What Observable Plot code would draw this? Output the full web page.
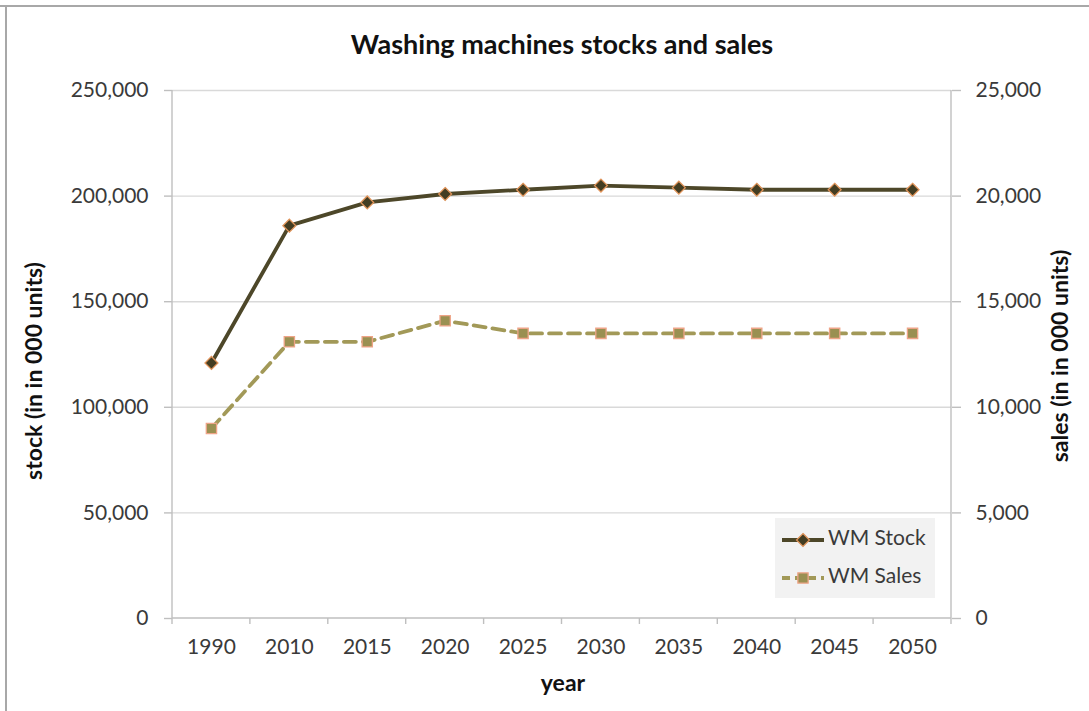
<!DOCTYPE html>
<html><head><meta charset="utf-8">
<script src="https://cdn.jsdelivr.net/npm/d3@7"></script>
<script src="https://cdn.jsdelivr.net/npm/@observablehq/plot@0.6"></script>
<style>
html,body{margin:0;padding:0;background:#fff;}
#chart{position:relative;width:1089px;height:711px;overflow:hidden;}
</style></head><body><div id="chart"></div>
<script>
// ---- data ----
const years = ["1990","2010","2015","2020","2025","2030","2035","2040","2045","2050"];
const stock = [121000,186000,197000,201000,203000,205000,204000,203000,203000,203000];
const sales = [9000,13100,13100,14100,13500,13500,13500,13500,13500,13500];
const stockTicks = [0,50000,100000,150000,200000,250000];
const salesTicks = [0,5000,10000,15000,20000,25000];
const seriesNames = ["WM Stock","WM Sales"];
const titleText = "Washing machines stocks and sales";
const xLabel = "year";
const yLeftLabel = "stock (in in 000 units)";
const yRightLabel = "sales (in in 000 units)";

// ---- styles ----
const font = "Lato, 'Open Sans', sans-serif";
const axisColor = "#bfbfbf";
const gridColor = "#d9d9d9";
const textColor = "#3a3a3a";
const stockLine = "#4d4729", stockFill = "#433d22", stockEdge = "#e0945a";
const salesLine = "#a29958", salesFill = "#9a9052", salesEdge = "#eea487";

const ratio = stockTicks[stockTicks.length-1] / salesTicks[salesTicks.length-1];
const stockData = years.map((year,i)=>({year, value: stock[i], series: seriesNames[0]}));
const salesData = years.map((year,i)=>({year, value: sales[i]*ratio, raw: sales[i], series: seriesNames[1]}));
const fmt = d3.format(",");

function axisFrame(index, scales, values, dimensions) {
  const {width, height, marginLeft, marginRight, marginTop, marginBottom} = dimensions;
  const x0 = marginLeft, x1 = width - marginRight, y0 = marginTop, y1 = height - marginBottom;
  const g = d3.create("svg:g").attr("stroke", axisColor).attr("stroke-width", 1.4).attr("fill","none");
  g.append("line").attr("x1", x0).attr("x2", x0).attr("y1", y0).attr("y2", y1);
  g.append("line").attr("x1", x1).attr("x2", x1).attr("y1", y0).attr("y2", y1);
  g.append("line").attr("x1", x0).attr("x2", x1).attr("y1", y1).attr("y2", y1);
  const step = scales.x(years[1]) - scales.x(years[0]);
  const bounds = years.map(yr => scales.x(yr) - step/2).concat([scales.x(years[years.length-1]) + step/2]);
  for (const b of bounds) g.append("line").attr("x1", b).attr("x2", b).attr("y1", y1).attr("y2", y1 + 6);
  return g.node();
}

const plot = Plot.plot({
  width: 1089, height: 711,
  marginLeft: 172, marginRight: 138, marginTop: 90, marginBottom: 93,
  style: {fontFamily: font, fontSize: "21px", color: textColor, background: "transparent", overflow: "visible"},
  x: {type: "point", domain: years, padding: 0.5, round: false, label: null},
  y: {domain: [0, stockTicks[stockTicks.length-1]], label: null},
  marks: [
    Plot.ruleY(stockTicks.slice(1), {stroke: gridColor, strokeWidth: 1.4}),
    Plot.axisY(stockTicks, {anchor: "left", tickSize: 8, tickPadding: 16, tickFormat: fmt, stroke: axisColor, strokeWidth: 1.4, fill: textColor, label: null}),
    Plot.axisY(salesTicks.map(d => d*ratio), {anchor: "right", tickSize: 9, tickPadding: 15, tickFormat: d => fmt(d/ratio), stroke: axisColor, strokeWidth: 1.4, fill: textColor, label: null}),
    Plot.axisX(years, {anchor: "bottom", tickSize: 0, tickPadding: 21, fill: textColor, label: null}),
    axisFrame,
    Plot.line(salesData, {x: "year", y: "value", stroke: salesLine, strokeWidth: 3.8, strokeDasharray: "12,7"}),
    Plot.line(stockData, {x: "year", y: "value", stroke: stockLine, strokeWidth: 3.8}),
    Plot.dot(salesData, {x: "year", y: "value", symbol: "square", r: 5.8, fill: salesFill, stroke: salesEdge, strokeWidth: 1.3}),
    Plot.dot(stockData, {x: "year", y: "value", symbol: "diamond2", r: 5.8, fill: stockFill, stroke: stockEdge, strokeWidth: 1.3})
  ]
});

const svg = d3.select(plot);
// outer border (top + left)
svg.append("line").attr("x1",0).attr("x2",1089).attr("y1",6).attr("y2",6).attr("stroke","#a8a8a8").attr("stroke-width",2);
svg.append("line").attr("x1",6).attr("x2",6).attr("y1",6).attr("y2",711).attr("stroke","#a8a8a8").attr("stroke-width",2);

function label(text, transform, size) {
  svg.append("text").text(text).attr("transform", transform).attr("text-anchor","middle").attr("dominant-baseline","middle")
    .attr("font-family", font).attr("font-size", size).attr("font-weight", 700).attr("fill", "#111");
}
label(titleText, "translate(562,47)", 27);
label(xLabel, "translate(563,685)", 23);
label(yLeftLabel, "translate(36,371) rotate(-90)", 23);
label(yRightLabel, "translate(1062,356) rotate(-90)", 23);

// legend
const lg = svg.append("g");
lg.append("rect").attr("x",775).attr("y",518).attr("width",160).attr("height",80).attr("fill","#f2f2f2");
const items = [
  {name: seriesNames[0], y: 540, line: stockLine, fill: stockFill, edge: stockEdge, dash: null, sym: d3.symbolDiamond2},
  {name: seriesNames[1], y: 578, line: salesLine, fill: salesFill, edge: salesEdge, dash: "8,5", sym: d3.symbolSquare}
];
for (const it of items) {
  lg.append("line").attr("x1",782).attr("x2",824).attr("y1",it.y).attr("y2",it.y).attr("stroke",it.line).attr("stroke-width",3.8).attr("stroke-dasharray", it.dash);
  lg.append("path").attr("d", d3.symbol(it.sym, Math.PI*5.8*5.8)()).attr("transform",`translate(803,${it.y})`).attr("fill",it.fill).attr("stroke",it.edge).attr("stroke-width",1.3);
  lg.append("text").text(it.name).attr("x",828).attr("y",it.y).attr("text-anchor","start").attr("dominant-baseline","middle")
    .attr("font-family",font).attr("font-size",21).attr("fill",textColor);
}

document.getElementById("chart").appendChild(plot);
</script></body></html>
